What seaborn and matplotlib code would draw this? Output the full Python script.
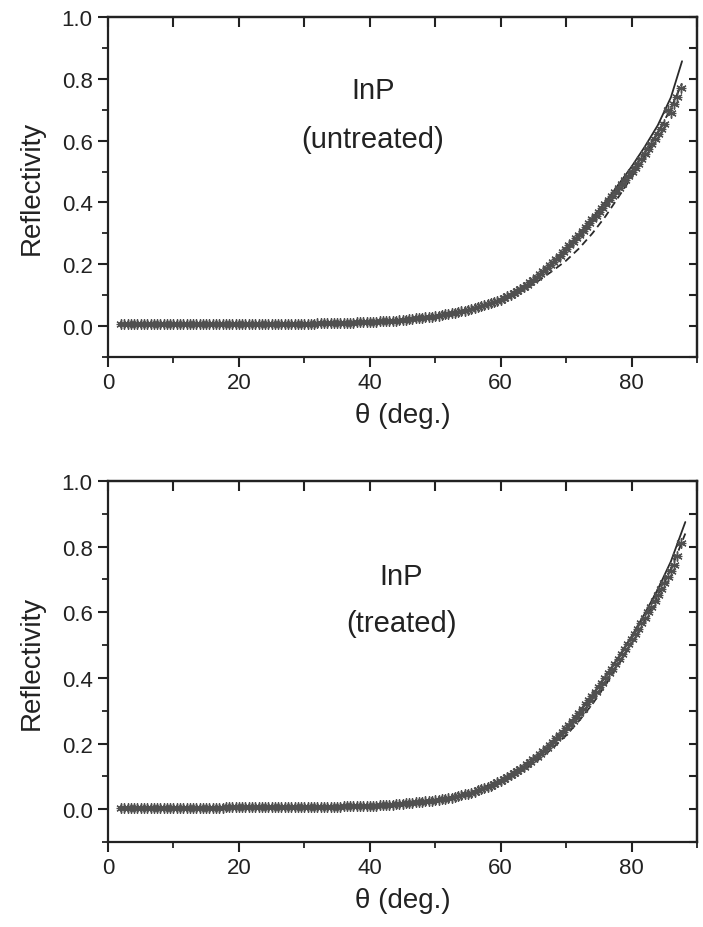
import numpy as np
import pandas as pd
import matplotlib
matplotlib.use("Agg")
import matplotlib.pyplot as plt
import seaborn as sns
from matplotlib.ticker import MultipleLocator

# ---------------- data ----------------
theta_meas = np.arange(2.0, 88.0, 0.5)   # measurement angles, 2.0 ... 87.5 deg

refl_untreated = (
    # 2.0 - 40.0
    [0.006] * 32 + [0.007] * 18 + [0.008] * 10 + [0.009] * 6 + [0.010] * 3
    + [0.011] * 3 + [0.012] * 2 + [0.013] * 3
    # 40.5 - 87.5
    + [0.014, 0.014, 0.015, 0.015, 0.016, 0.016, 0.017, 0.018, 0.019, 0.020,
       0.021, 0.022, 0.023, 0.025, 0.026, 0.027, 0.028, 0.030, 0.031, 0.033,
       0.034, 0.036, 0.038, 0.040, 0.042, 0.044, 0.046, 0.048, 0.050, 0.053,
       0.056, 0.059, 0.062, 0.065, 0.068, 0.071, 0.074, 0.078, 0.082, 0.086,
       0.091, 0.096, 0.101, 0.107, 0.113, 0.120, 0.127, 0.134, 0.142, 0.150,
       0.159, 0.168, 0.177, 0.187, 0.197, 0.207, 0.217, 0.228, 0.239, 0.250,
       0.261, 0.273, 0.284, 0.296, 0.308, 0.320, 0.332, 0.345, 0.357, 0.370,
       0.382, 0.395, 0.407, 0.420, 0.433, 0.446, 0.459, 0.472, 0.485, 0.498,
       0.512, 0.526, 0.541, 0.556, 0.572, 0.588, 0.604, 0.620, 0.637, 0.655,
       0.700, 0.690, 0.720, 0.740, 0.770]
)

refl_treated = (
    # 2.0 - 40.0
    [0.005] * 32 + [0.006] * 18 + [0.007] * 10 + [0.008] * 8 + [0.009] * 6
    + [0.010] * 3
    # 40.5 - 87.5
    + [0.011, 0.011, 0.012, 0.012, 0.013, 0.013, 0.014, 0.015, 0.016, 0.017,
       0.018, 0.019, 0.020, 0.021, 0.022, 0.023, 0.024, 0.025, 0.026, 0.027,
       0.029, 0.030, 0.032, 0.033, 0.035, 0.037, 0.040, 0.042, 0.045, 0.047,
       0.050, 0.053, 0.057, 0.060, 0.064, 0.068, 0.072, 0.077, 0.082, 0.087,
       0.092, 0.098, 0.104, 0.110, 0.116, 0.123, 0.130, 0.137, 0.144, 0.152,
       0.160, 0.169, 0.178, 0.187, 0.196, 0.206, 0.216, 0.226, 0.236, 0.247,
       0.258, 0.270, 0.282, 0.294, 0.306, 0.319, 0.332, 0.345, 0.358, 0.372,
       0.386, 0.400, 0.414, 0.428, 0.442, 0.457, 0.472, 0.487, 0.502, 0.518,
       0.534, 0.550, 0.566, 0.583, 0.600, 0.617, 0.634, 0.652, 0.670, 0.688,
       0.706, 0.725, 0.745, 0.770, 0.810]
)

theta_fit_u = [2, 10, 20, 30, 40, 45, 50, 55, 60, 62, 64, 66, 68, 70, 72, 74, 76,
               78, 80, 82, 84, 86, 87.7]
solid_untreated = [0.006, 0.006, 0.007, 0.008, 0.013, 0.020, 0.033, 0.053, 0.086,
                   0.107, 0.134, 0.168, 0.207, 0.250, 0.298, 0.350, 0.402, 0.458,
                   0.516, 0.580, 0.650, 0.740, 0.857]
dashed_untreated = [0.006, 0.006, 0.007, 0.008, 0.013, 0.020, 0.033, 0.052, 0.082,
                    0.100, 0.123, 0.150, 0.180, 0.212, 0.252, 0.300, 0.355, 0.418,
                    0.482, 0.552, 0.625, 0.705, 0.785]

theta_fit_t = [2, 10, 20, 30, 40, 45, 50, 55, 60, 62, 64, 66, 68, 70, 72, 74, 76,
               78, 80, 82, 84, 86, 88.2]
solid_treated = [0.005, 0.005, 0.006, 0.007, 0.010, 0.017, 0.027, 0.047, 0.087,
                 0.110, 0.137, 0.169, 0.206, 0.248, 0.296, 0.348, 0.404, 0.463,
                 0.527, 0.596, 0.670, 0.755, 0.875]
dashed_treated = [0.005, 0.005, 0.006, 0.007, 0.010, 0.017, 0.027, 0.046, 0.083,
                  0.102, 0.126, 0.154, 0.187, 0.225, 0.270, 0.320, 0.378, 0.440,
                  0.505, 0.575, 0.650, 0.730, 0.840]

titles = [("InP", "(untreated)"), ("InP", "(treated)")]
xlabel = "\u03b8 (deg.)"
ylabel = "Reflectivity"
xticks = [0, 20, 40, 60, 80]
yticks = [0.0, 0.2, 0.4, 0.6, 0.8, 1.0]

n = min(len(theta_meas), len(refl_untreated), len(refl_treated))

# ---------------- style ----------------
sns.set_style("ticks")
plt.rcParams["font.family"] = ["Liberation Sans", "DejaVu Sans"]
plt.rcParams["axes.linewidth"] = 1.6
plt.rcParams["axes.edgecolor"] = "#222222"

fig = plt.figure(figsize=(7.03, 9.28), dpi=100)
ax_top = fig.add_axes([0.1536, 0.6142, 0.8380, 0.3664])
ax_bot = fig.add_axes([0.1536, 0.0916, 0.8380, 0.3890])

panels = [
    (ax_top, refl_untreated, theta_fit_u, solid_untreated, dashed_untreated,
     titles[0], (40.5, 0.765, 0.605)),
    (ax_bot, refl_treated, theta_fit_t, solid_treated, dashed_treated,
     titles[1], (44.8, 0.71, 0.566)),
]

asterisk = (6, 2, 0)
for ax, meas, tfit, solid, dashed, (t1, t2), (tx, ty1, ty2) in panels:
    df_m = pd.DataFrame({"theta": theta_meas[:n], "R": meas[:n]})
    df_s = pd.DataFrame({"theta": tfit, "R": solid})
    df_d = pd.DataFrame({"theta": tfit, "R": dashed})
    sns.lineplot(data=df_s, x="theta", y="R", ax=ax, color="#2a2a2a", lw=1.3)
    sns.lineplot(data=df_d, x="theta", y="R", ax=ax, color="#2a2a2a", lw=1.3,
                 linestyle=(0, (4, 2.5)))
    sns.scatterplot(data=df_m, x="theta", y="R", ax=ax, marker=asterisk, s=45,
                    color="#505050", linewidth=1.0, edgecolor="#505050", zorder=3)
    sns.scatterplot(data=df_m, x="theta", y="R", ax=ax, marker="+", s=45,
                    color="#505050", linewidth=0.9, zorder=3)

    ax.set_xlim(0, 90)
    ax.set_ylim(-0.1, 1.0)
    ax.set_xticks(xticks)
    ax.set_yticks(yticks)
    ax.xaxis.set_minor_locator(MultipleLocator(10))
    ax.yaxis.set_minor_locator(MultipleLocator(0.1))
    ax.set_yticklabels([f"{v:.1f}" for v in yticks])
    ax.tick_params(axis="both", which="major", direction="out", length=7, width=1.5,
                   labelsize=16, colors="#222222", pad=4)
    ax.tick_params(axis="both", which="minor", direction="out", length=4, width=1.3,
                   colors="#222222")
    for s in ax.spines.values():
        s.set_visible(True)
        s.set_linewidth(1.6)

    top = ax.secondary_xaxis("top")
    top.set_xticks([0, 10, 20, 30, 40, 50, 60, 70, 80, 90])
    top.tick_params(direction="in", length=7, width=1.5, labeltop=False,
                    colors="#222222")
    top.spines["top"].set_linewidth(1.6)
    right = ax.secondary_yaxis("right")
    right.set_yticks([-0.1, 0.0, 0.1, 0.2, 0.3, 0.4, 0.5, 0.6, 0.7, 0.8, 0.9, 1.0])
    right.tick_params(direction="in", length=6, width=1.5, labelright=False,
                      colors="#222222")
    right.spines["right"].set_linewidth(1.6)

    ax.set_xlabel(xlabel, fontsize=20, color="#222222", labelpad=6)
    ax.set_ylabel(ylabel, fontsize=20, color="#222222", labelpad=12)
    ax.text(tx, ty1, t1, fontsize=21, ha="center", va="center", color="#222222")
    ax.text(tx, ty2, t2, fontsize=21, ha="center", va="center", color="#222222")

fig.savefig("out.png", dpi=100, facecolor="white")
